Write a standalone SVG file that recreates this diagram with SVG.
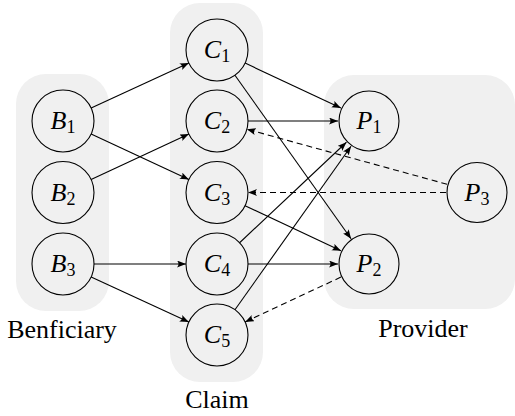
<svg xmlns="http://www.w3.org/2000/svg" width="515" height="416" viewBox="0 0 515 416">
<defs>
<marker id="arr" markerUnits="userSpaceOnUse" markerWidth="10" markerHeight="8" refX="9" refY="3.5" orient="auto">
<path d="M0,0 Q3,3.5 0,7 L9,3.5 Z" fill="#000"/>
</marker>
<style>
.bg{fill:#f0f0f0;stroke:none}
.nd{fill:none;stroke:#000;stroke-width:1.1}
.e{fill:none;stroke:#000;stroke-width:1.1;marker-end:url(#arr)}
.d{stroke-dasharray:6,4}
text{fill:#000;font-family:"Liberation Serif","Times New Roman",serif}
.lb{font-size:26px;font-style:italic}
.sb{font-size:18px;font-style:normal}
.gt{font-size:26px}
</style>
</defs>
<g id="groups">
<rect class="bg" x="16" y="74" width="93" height="237" rx="30"/>
<rect class="bg" x="170" y="3" width="93" height="379" rx="30"/>
<rect class="bg" x="324" y="75" width="191" height="234" rx="30"/>
<text class="gt" x="62" y="338" text-anchor="middle">Benficiary</text>
<text class="gt" x="217" y="408" text-anchor="middle">Claim</text>
<text class="gt" x="423" y="337" text-anchor="middle">Provider</text>
</g>
<g id="connectors">
<line class="e" x1="91.15" y1="108.02" x2="188.85" y2="62.98"/>
<line class="e" x1="91.12" y1="134.05" x2="188.88" y2="179.45"/>
<line class="e" x1="91.12" y1="179.45" x2="188.88" y2="134.05"/>
<line class="e" x1="94" y1="264" x2="186" y2="264"/>
<line class="e" x1="91.15" y1="276.98" x2="188.85" y2="322.02"/>
<line class="e" x1="245.09" y1="63.12" x2="340.91" y2="107.88"/>
<line class="e" x1="234.95" y1="75.27" x2="351.05" y2="238.73"/>
<line class="e" x1="248" y1="121" x2="338" y2="121"/>
<line class="e" x1="245.05" y1="205.69" x2="340.95" y2="250.81"/>
<line class="e" x1="239.58" y1="242.76" x2="346.42" y2="142.24"/>
<line class="e" x1="248" y1="264" x2="338" y2="264"/>
<line class="e" x1="234.95" y1="309.73" x2="351.05" y2="146.27"/>
<line class="e d" x1="447.11" y1="184.28" x2="246.89" y2="129.22"/>
<line class="e d" x1="446" y1="192.5" x2="248" y2="192.5"/>
<line class="e d" x1="340.91" y1="277.12" x2="245.09" y2="321.88"/>
</g>
<g id="nodes">
<g id="B1"><circle class="nd" cx="63" cy="121" r="31"/><text class="lb" x="63" y="129" text-anchor="middle">B<tspan class="sb" dy="4">1</tspan></text></g>
<g id="B2"><circle class="nd" cx="63" cy="192.5" r="31"/><text class="lb" x="63" y="200.5" text-anchor="middle">B<tspan class="sb" dy="4">2</tspan></text></g>
<g id="B3"><circle class="nd" cx="63" cy="264" r="31"/><text class="lb" x="63" y="272" text-anchor="middle">B<tspan class="sb" dy="4">3</tspan></text></g>
<g id="C1"><circle class="nd" cx="217" cy="50" r="31"/><text class="lb" x="217" y="58" text-anchor="middle">C<tspan class="sb" dy="4">1</tspan></text></g>
<g id="C2"><circle class="nd" cx="217" cy="121" r="31"/><text class="lb" x="217" y="129" text-anchor="middle">C<tspan class="sb" dy="4">2</tspan></text></g>
<g id="C3"><circle class="nd" cx="217" cy="192.5" r="31"/><text class="lb" x="217" y="200.5" text-anchor="middle">C<tspan class="sb" dy="4">3</tspan></text></g>
<g id="C4"><circle class="nd" cx="217" cy="264" r="31"/><text class="lb" x="217" y="272" text-anchor="middle">C<tspan class="sb" dy="4">4</tspan></text></g>
<g id="C5"><circle class="nd" cx="217" cy="335" r="31"/><text class="lb" x="217" y="343" text-anchor="middle">C<tspan class="sb" dy="4">5</tspan></text></g>
<g id="P1"><circle class="nd" cx="369" cy="121" r="30"/><text class="lb" x="369" y="129" text-anchor="middle">P<tspan class="sb" dy="4">1</tspan></text></g>
<g id="P2"><circle class="nd" cx="369" cy="264" r="30"/><text class="lb" x="369" y="272" text-anchor="middle">P<tspan class="sb" dy="4">2</tspan></text></g>
<g id="P3"><circle class="nd" cx="477" cy="192.5" r="30"/><text class="lb" x="477" y="200.5" text-anchor="middle">P<tspan class="sb" dy="4">3</tspan></text></g>
</g>
</svg>
